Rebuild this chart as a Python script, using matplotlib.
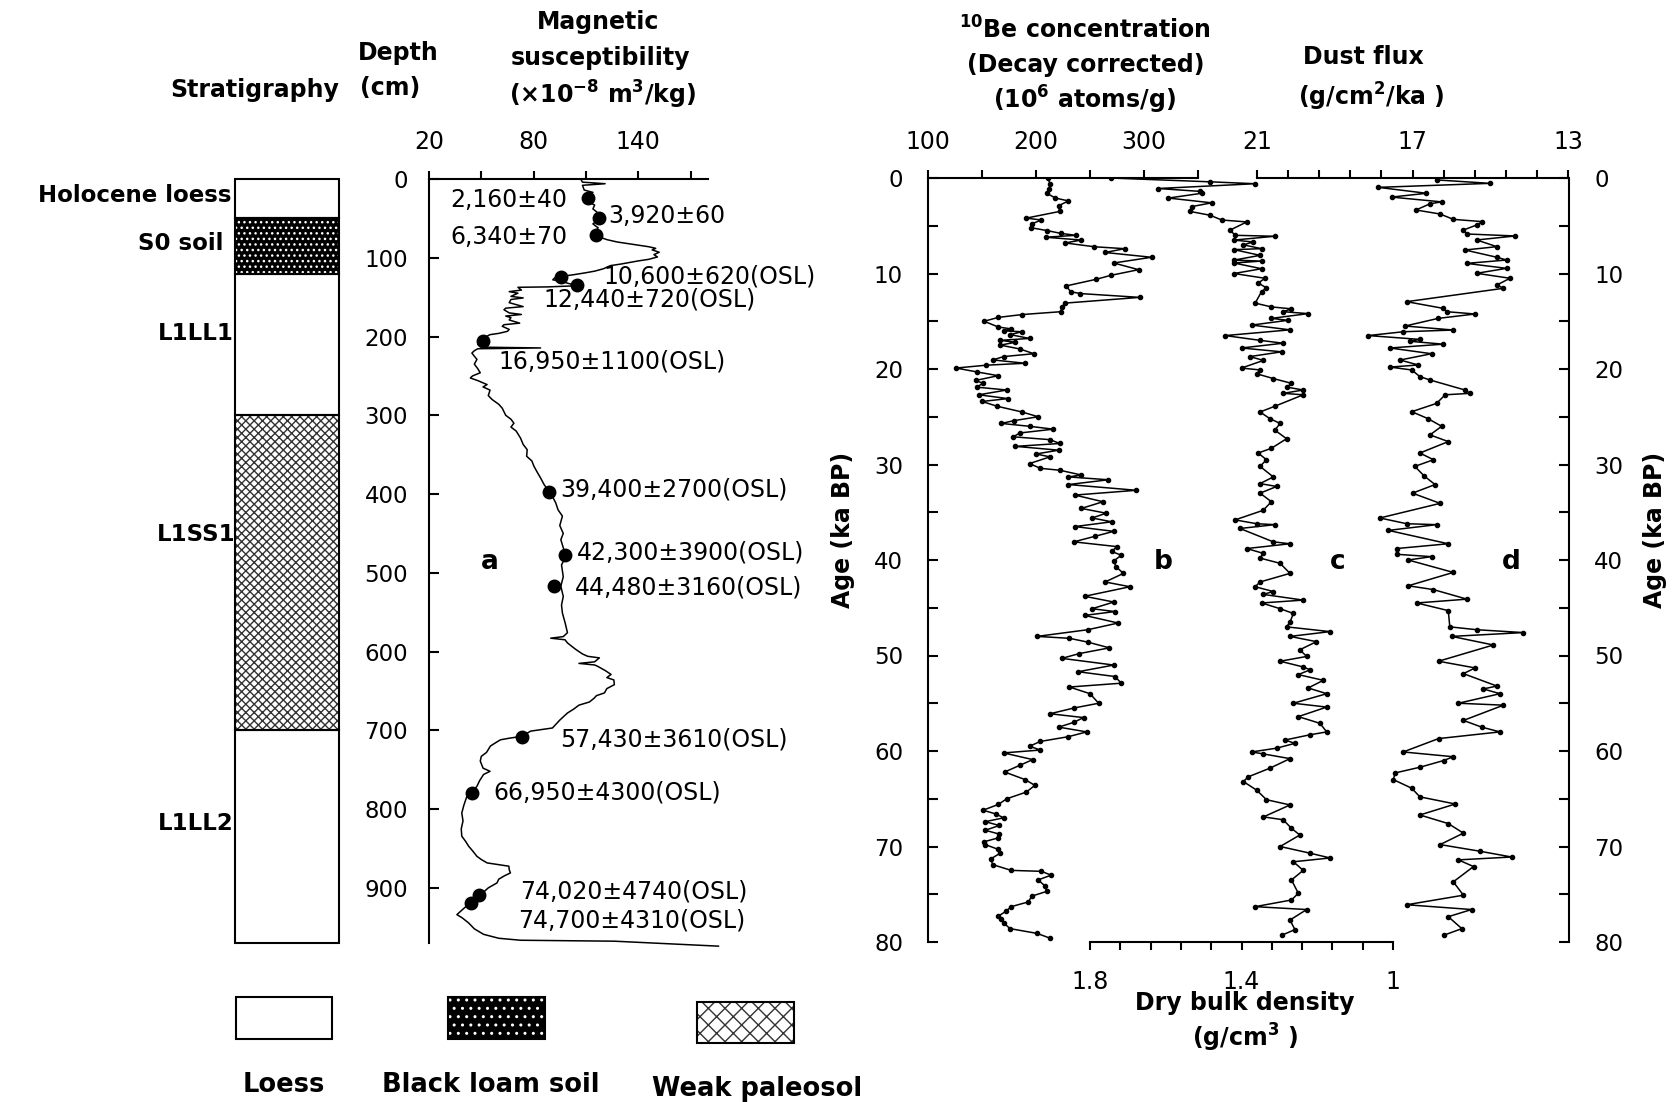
import numpy as np
import matplotlib
matplotlib.use('Agg')
import matplotlib.pyplot as plt
from matplotlib.patches import Rectangle

plt.rcParams['font.family'] = 'DejaVu Sans'
plt.rcParams['mathtext.default'] = 'regular'

# ---------------- data ----------------
# stratigraphy (depth in cm)
layer_names = ['Holocene loess', 'S0 soil', 'L1LL1', 'L1SS1', 'L1LL2']
layer_top = [0, 50, 120, 300, 700]
layer_bot = [50, 120, 300, 700, 970]
layer_kind = ['loess', 'soil', 'loess', 'paleosol', 'loess']

# magnetic susceptibility vs depth
mag_depth = [0, 4, 6, 8, 14, 17, 20, 26, 30, 33, 38, 45, 52, 57, 62, 68, 73, 77, 80, 83, 86,
             88, 90, 93, 96, 99, 102, 104, 106, 108, 110, 112, 114, 117, 119, 121.5, 123,
             125.7, 128, 130, 132, 135.5, 137, 137.5, 141, 143, 145, 149, 151, 153, 157, 162,
             164, 166, 170, 172, 174, 176, 179, 183, 185, 187, 191, 193.4, 196, 197.6, 201,
             203, 206, 210, 213.5, 214.5, 215.5, 218, 221, 225, 229, 235, 241, 246, 250,
             252.6, 256, 261, 264, 268, 275, 280, 286, 291, 300, 305, 310, 315, 320, 329, 337,
             343.6, 352, 358, 364.8, 372, 379.6, 388, 396.5, 404, 411.3, 420, 428, 440, 450,
             458, 468, 479, 490, 505, 517, 530, 541, 551, 563, 576, 581, 583, 585, 589, 597,
             603, 606, 608, 613, 615, 617, 618.7, 624, 629, 633, 636, 642, 647, 652.5, 656,
             659, 664, 668, 673, 678, 687, 697, 701, 704, 707.5, 710, 712, 716, 720, 728,
             733, 739, 748, 752, 756, 764, 771, 778, 784, 795, 805, 815, 825, 834.4, 841,
             847, 853, 860, 864, 868.3, 872.5, 877, 881, 885, 889, 893.7, 900, 904, 908.5,
             913, 919, 926, 934, 938, 944.5, 952, 959, 964, 966.5, 967.7, 974]
mag_value = [107, 108, 121, 108, 109, 114, 111, 113, 112, 115, 114, 118, 117, 114, 117, 115,
             117, 122, 128, 137, 146, 150, 148, 152, 149, 151, 146, 140, 135, 130, 124, 122,
             120, 115, 110, 103, 98, 92, 91, 96, 99, 105, 88, 71, 73, 66, 71, 67, 74, 67,
             66, 74, 64, 63, 66, 73, 64, 67, 66, 72, 63, 62, 66, 65, 60, 55, 52, 50, 49, 48,
             50, 84, 48, 46, 44.6, 46, 47.5, 46, 48, 49.4, 45, 43.7, 48, 53.3, 51, 55, 54,
             56.2, 60, 62, 64, 67, 68.7, 67, 70, 72.5, 74, 76.3, 76, 79, 80.2, 82, 84, 86,
             88.8, 91, 92.7, 94, 96.5, 95, 97, 95.6, 97, 98.5, 96, 97, 95.6, 97, 96, 96.5, 98,
             99.4, 97, 89.8, 98, 99.4, 104, 108, 111, 117.7, 115, 106, 115, 116.7, 121,
             124.4, 122, 126, 126.3, 122, 120.6, 116, 114.8, 112, 106, 103, 99.4, 95, 90.8,
             78.3, 76, 73.5, 66, 61, 58, 55.2, 53, 50, 49.4, 51, 55, 51.3, 49, 47.5, 45,
             41.7, 40, 38.8, 39.5, 38.5, 38.8, 41, 42.7, 45, 47.5, 50, 53.3, 65.8, 66, 66.7,
             63, 60, 59, 54, 52, 49.4, 47, 43.7, 40, 36, 39, 42.7, 46, 51.3, 60, 72.5,
             126.3, 186]

# dated samples on the susceptibility curve
date_labels = ['2,160±40', '3,920±60', '6,340±70', '10,600±620(OSL)', '12,440±720(OSL)',
               '16,950±1100(OSL)', '39,400±2700(OSL)', '42,300±3900(OSL)',
               '44,480±3160(OSL)', '57,430±3610(OSL)', '66,950±4300(OSL)',
               '74,020±4740(OSL)', '74,700±4310(OSL)']
date_depth = [24, 50, 71, 124, 134.5, 206, 397, 478, 517, 708, 780, 909, 919]
date_value = [111, 117.7, 116, 95.6, 105, 51, 89, 98, 91.7, 73.5, 44.6, 48.5, 44]

# 10Be concentration (10^6 atoms/g) vs age (ka BP)
be_age = [0.0, 0.6, 1.2, 1.6, 2.1, 2.4, 2.9, 3.5, 4.2, 4.4, 4.8, 5.2, 5.5, 5.8, 6.0, 6.2, 6.5,
          6.8, 7.2, 7.4, 7.8, 8.3, 8.9, 9.6, 10.2, 10.6, 11.3, 11.9, 12.1, 12.5, 13.1, 13.5,
          14.0, 14.3, 14.6, 15.0, 15.6, 15.8, 16.0, 16.1, 16.4, 16.8, 17.0, 17.2, 17.5, 17.9,
          18.4, 18.7, 19.05, 19.4, 19.6, 19.9, 20.3, 20.7, 21.2, 21.5, 21.9, 22.2, 22.7,
          23.1, 23.4, 23.9, 24.5, 25.0, 25.4, 25.7, 26.0, 26.3, 26.7, 27.1, 27.4, 27.8,
          28.1, 28.5, 28.9, 29.2, 29.9, 30.4, 30.6, 31.1, 31.3, 31.6, 32.1, 32.7, 33.2,
          33.9, 34.6, 35.1, 35.6, 36.0, 36.5, 37.0, 37.5, 38.1, 38.6, 39.1, 39.5, 40.1,
          40.7, 41.4, 42.3, 42.8, 43.8, 44.4, 45.1, 45.4, 45.8, 46.6, 47.3, 48.0, 48.2,
          48.6, 49.2, 49.8, 50.3, 51.0, 51.7, 52.2, 52.9, 53.3, 54.0, 55.0, 55.5, 56.1,
          56.5, 57.0, 57.5, 58.0, 58.5, 59.0, 59.5, 59.9, 60.2, 60.9, 61.5, 62.2, 63.0,
          63.6, 64.3, 65.0, 65.6, 66.2, 66.6, 67.0, 67.4, 67.8, 68.3, 68.7, 69.1, 69.5,
          69.8, 70.3, 70.7, 71.3, 71.9, 72.5, 72.6, 73.0, 73.5, 74.1, 74.7, 75.2, 75.8,
          76.3, 76.8, 77.3, 77.6, 78.0, 78.6, 79.1, 79.6]
be_value = [211, 213, 212, 210, 218, 230, 221, 222, 191, 205, 196, 195, 210, 223, 237, 209,
            242, 227, 254, 282, 264, 307, 272, 295, 269, 256, 228, 232, 241, 296, 227, 224,
            223, 187, 165, 152, 165, 177, 170, 187, 176, 194, 167, 181, 167, 185, 198, 170,
            160, 190, 154, 126, 145, 165, 144, 151, 145, 173, 147, 174, 150, 164, 187, 202,
            180, 168, 194, 216, 185, 179, 213, 222, 181, 221, 200, 213, 194, 204, 222, 242,
            230, 267, 230, 293, 236, 262, 242, 265, 252, 270, 236, 272, 255, 235, 275, 270,
            279, 272, 274, 281, 264, 287, 245, 272, 252, 273, 245, 276, 248, 201, 231, 248,
            268, 240, 224, 272, 239, 273, 279, 231, 250, 258, 235, 213, 244, 235, 221, 247,
            230, 204, 194, 204, 170, 197, 185, 171, 190, 199, 191, 173, 165, 151, 163, 170,
            153, 166, 153, 166, 165, 152, 153, 165, 167, 158, 160, 177, 205, 214, 202, 208,
            210, 196, 193, 177, 172, 165, 168, 170, 176, 201, 213]

# dry bulk density (g/cm3) vs age
c_age = [0.0, 0.4, 0.6, 1.1, 1.4, 1.6, 2.1, 2.6, 3.0, 3.5, 3.9, 4.4, 4.6, 5.45, 6.0, 6.1, 6.5,
         6.7, 7.0, 7.4, 7.5, 8.1, 8.6, 8.7, 8.9, 9.5, 10.0, 10.5, 11.0, 11.5, 11.9, 13.1,
         13.5, 13.7, 14.0, 14.2, 14.7, 14.9, 15.4, 15.9, 16.5, 17.0, 17.3, 17.8, 18.2, 18.7,
         19.1, 19.9, 20.1, 20.5, 21.0, 21.5, 21.9, 22.2, 22.55, 22.7, 23.9, 24.5, 25.2,
         25.7, 26.4, 27.3, 28.3, 28.8, 29.5, 30.2, 31.3, 32.0, 32.3, 33.0, 33.9, 34.8, 35.8,
         36.2, 36.3, 36.7, 38.1, 38.3, 38.8, 39.3, 39.8, 40.35, 41.4, 42.3, 42.8, 43.3,
         43.6, 44.2, 44.5, 45.1, 45.6, 46.5, 47.0, 47.5, 48.0, 48.55, 49.4, 50.1, 50.6,
         51.2, 51.5, 52.0, 52.6, 53.4, 54.0, 55.0, 55.4, 56.4, 57.1, 58.0, 58.3, 58.85,
         59.2, 59.7, 60.1, 60.3, 60.8, 61.8, 62.7, 63.2, 64.1, 65.1, 65.65, 66.9, 67.2,
         68.1, 68.8, 70.0, 70.7, 71.2, 71.6, 72.5, 73.5, 74.9, 75.6, 76.3, 76.6, 77.7,
         78.7, 79.3]
c_value = [1.745, 1.483, 1.364, 1.62, 1.51, 1.505, 1.593, 1.479, 1.532, 1.536, 1.483, 1.452,
           1.386, 1.43, 1.417, 1.312, 1.42, 1.369, 1.395, 1.347, 1.42, 1.351, 1.42, 1.347,
           1.42, 1.347, 1.42, 1.338, 1.356, 1.334, 1.347, 1.364, 1.321, 1.268, 1.29, 1.224,
           1.321, 1.277, 1.373, 1.272, 1.443, 1.351, 1.29, 1.40, 1.294, 1.378, 1.342, 1.40,
           1.351, 1.36, 1.316, 1.268, 1.28, 1.237, 1.29, 1.237, 1.312, 1.351, 1.325, 1.298,
           1.312, 1.281, 1.321, 1.356, 1.334, 1.351, 1.316, 1.351, 1.307, 1.351, 1.321,
           1.343, 1.417, 1.36, 1.312, 1.404, 1.316, 1.272, 1.386, 1.343, 1.351, 1.298, 1.272,
           1.351, 1.364, 1.316, 1.343, 1.237, 1.347, 1.298, 1.263, 1.272, 1.281, 1.166,
           1.272, 1.202, 1.246, 1.228, 1.298, 1.237, 1.219, 1.25, 1.184, 1.224, 1.175,
           1.263, 1.175, 1.25, 1.193, 1.175, 1.219, 1.285, 1.259, 1.307, 1.373, 1.343, 1.272,
           1.325, 1.382, 1.395, 1.36, 1.334, 1.272, 1.342, 1.29, 1.268, 1.246, 1.298, 1.219,
           1.166, 1.263, 1.237, 1.268, 1.25, 1.268, 1.364, 1.228, 1.272, 1.259, 1.294]

# dust flux (g/cm2/ka) vs age
d_age = [0.2, 0.56, 0.98, 1.6, 2.0, 2.5, 2.7, 3.35, 3.77, 4.33, 4.57, 4.92, 5.45, 5.86, 6.07,
         6.49, 7.19, 7.54, 8.3, 8.59, 8.94, 9.46, 9.98, 10.5, 11.2, 11.55, 12.95, 13.65,
         14.0, 14.24, 14.7, 15.5, 15.92, 16.1, 16.5, 16.9, 17.1, 17.4, 17.8, 18.4, 19.06,
         19.58, 19.8, 20.1, 20.8, 21.15, 22.2, 22.55, 22.7, 23.6, 24.47, 25.2, 26.0, 26.9,
         27.6, 28.8, 29.5, 30.2, 31.2, 32.1, 33.0, 34.07, 35.6, 36.2, 36.3, 36.9, 38.3,
         38.8, 39.4, 39.65, 40.0, 41.3, 42.7, 43.1, 44.1, 44.5, 45.3, 47.0, 47.3, 47.6,
         48.0, 48.9, 50.6, 51.3, 51.9, 53.2, 53.5, 54.0, 55.0, 55.2, 56.8, 57.5, 58.0, 58.7,
         60.1, 60.6, 61.0, 61.7, 62.3, 63.0, 63.9, 64.8, 65.55, 66.7, 67.6, 68.6, 69.8,
         70.5, 71.1, 71.4, 72.1, 73.7, 75.1, 76.1, 76.6, 77.35, 78.6, 79.3]
d_value = [16.38, 15.01, 17.88, 16.64, 17.54, 16.25, 16.55, 16.91, 16.29, 15.95, 15.2, 15.35,
           15.69, 15.61, 14.36, 15.35, 14.83, 15.65, 14.83, 14.58, 15.61, 14.58, 15.35,
           14.49, 14.83, 14.66, 17.15, 16.21, 16.12, 15.39, 16.34, 17.19, 15.95, 17.24,
           18.14, 16.81, 17.06, 16.21, 17.58, 16.51, 17.32, 16.85, 17.58, 17.02, 16.81,
           16.55, 15.65, 15.52, 16.16, 16.38, 17.02, 16.6, 16.25, 16.55, 16.08, 16.81, 16.46,
           16.94, 16.7, 16.42, 17.0, 16.29, 17.84, 17.15, 16.38, 17.62, 16.08, 17.41, 17.41,
           16.51, 17.11, 15.95, 17.11, 16.46, 15.6, 16.89, 16.08, 16.04, 15.35, 14.15, 15.99,
           14.92, 16.33, 15.39, 15.69, 14.83, 15.18, 14.75, 15.82, 14.66, 15.69, 15.22,
           14.75, 16.33, 17.24, 15.95, 16.2, 16.81, 17.45, 17.49, 17.02, 16.81, 15.9, 16.81,
           16.08, 15.69, 16.29, 15.26, 14.45, 15.82, 15.43, 15.95, 15.69, 17.15, 15.48,
           16.08, 15.73, 16.2]

# tick labels
mag_ticks = [20, 50, 80, 110, 140, 170]
mag_ticklabels = ['20', '', '80', '', '140', '']
be_ticks = [100, 150, 200, 250, 300, 350]
be_ticklabels = ['100', '', '200', '', '300', '']
dust_ticks = [13, 13.8, 14.6, 15.4, 16.2, 17, 17.8, 18.6, 19.4, 20.2, 21]
dust_ticklabels = ['13', '', '', '', '', '17', '', '', '', '', '21']
dens_ticks = [1.0, 1.08, 1.16, 1.24, 1.32, 1.4, 1.48, 1.56, 1.64, 1.72, 1.8]
dens_ticklabels = ['1', '', '', '', '', '1.4', '', '', '', '', '1.8']

# ---------------- layout helpers (pixels of a 1678x1102 canvas) ----------------
W, H = 1678, 1102
fig = plt.figure(figsize=(W / 100, H / 100), dpi=100)


def box(x0, y0, x1, y1):
    return [x0 / W, 1 - y1 / H, (x1 - x0) / W, (y1 - y0) / H]


def ftext(x, y, s, **kw):
    kw.setdefault('ha', 'center')
    kw.setdefault('va', 'center')
    fig.text(x / W, 1 - y / H, s, **kw)


def span(v0, p0, v1, p1, a0, a1):
    # limits so that value v0 sits at pixel p0 and v1 at p1 on an axes spanning a0..a1
    k = (v1 - v0) / (p1 - p0)
    return v0 + (a0 - p0) * k, v0 + (a1 - p0) * k


LW = 1.5
TS = 17  # title size

# ---------------- stratigraphy column ----------------
ax_s = fig.add_axes(box(235, 179, 339, 943))
ax_s.set_ylim(970, 0)
ax_s.set_xlim(0, 1)
ax_s.axis('off')
thick = np.array(layer_bot) - np.array(layer_top)
bars = ax_s.barh(layer_top, 1, height=thick, left=0, align='edge',
                 color='white', edgecolor='black', linewidth=0)
for b, kind in zip(bars, layer_kind):
    if kind == 'soil':
        b.set_facecolor('black')
        b.set_edgecolor('white')
        b.set_hatch('...')
    elif kind == 'paleosol':
        b.set_edgecolor('#333333')
        b.set_hatch('xxxx')
ax_s.barh(layer_top, 1, height=thick, left=0, align='edge', fill=False,
          edgecolor='black', linewidth=LW, clip_on=False)

strat_pos = [(231, 196, 'right'), (181, 244, 'center'), (196, 334, 'center'),
             (196, 535, 'center'), (196, 824, 'center')]
for name, (x, y, ha) in zip(layer_names, strat_pos):
    ftext(x, y, name, ha=ha, fontsize=16.5, fontweight='bold')

# ---------------- magnetic susceptibility ----------------
ax_m = fig.add_axes(box(429, 179, 708, 943))
ax_m.set_ylim(970, 0)
ax_m.set_xlim(20, 180)
ax_m.plot(mag_value, mag_depth, color='black', lw=1.1, clip_on=False)
ax_m.plot(date_value, date_depth, 'o', color='black', ms=9, clip_on=False)
for s in ['right', 'bottom']:
    ax_m.spines[s].set_visible(False)
for s in ['left', 'top']:
    ax_m.spines[s].set_linewidth(LW)
ax_m.xaxis.tick_top()
ax_m.set_xticks(mag_ticks)
ax_m.set_xticklabels(mag_ticklabels)
ax_m.set_yticks(range(0, 901, 100))
ax_m.tick_params(axis='x', direction='out', length=6, width=LW, labelsize=17, pad=12)
ax_m.tick_params(axis='y', direction='in', length=7, width=LW, labelsize=16.5, pad=15)

lab_x = [32, 123, 32, 119.8, 85.4, 59.6, 95, 104.9, 103.7, 95, 56.7, 72.2, 71]
lab_y = [26.7, 47, 73.6, 124, 153.5, 232, 394, 474, 518.7, 712, 779, 905, 942]
for s, x, y in zip(date_labels, lab_x, lab_y):
    ax_m.text(x, y, s, fontsize=17, ha='left', va='center', clip_on=False)
ftext(490, 562, 'a', fontsize=19, fontweight='bold')

# headers, left part
ftext(255, 90, 'Stratigraphy', fontsize=TS, fontweight='bold')
ftext(398, 53, 'Depth', fontsize=TS, fontweight='bold')
ftext(390, 88, '(cm)', fontsize=TS, fontweight='bold')
ftext(598, 22, 'Magnetic', fontsize=TS, fontweight='bold')
ftext(600, 58, 'susceptibility', fontsize=TS, fontweight='bold')
ftext(603, 95, r'(×10$^{\mathbf{-8}}$ m$^{\mathbf{3}}$/kg)', fontsize=TS, fontweight='bold')

# ---------------- age panel ----------------
ax_a = fig.add_axes(box(928, 178, 1569, 942))
ax_a.set_ylim(80, 0)
ax_a.set_xticks([])
for s in ['top', 'bottom']:
    ax_a.spines[s].set_visible(False)
for s in ['left', 'right']:
    ax_a.spines[s].set_linewidth(LW)
ax_a.set_yticks(range(0, 81, 10))
ax_a.set_yticks(range(5, 80, 10), minor=True)
ax_a.tick_params(axis='y', which='both', direction='in', length=7, width=LW,
                 left=True, right=True, labelleft=True, labelright=True,
                 labelsize=16.5, pad=18)

# 10Be
ax_b = ax_a.twiny()
ax_b.set_xlim(*span(100, 928, 350, 1198, 928, 1569))
ax_b.plot(be_value, be_age, '-o', color='black', lw=1.1, ms=3)
for s in ['left', 'right', 'bottom']:
    ax_b.spines[s].set_visible(False)
ax_b.spines['top'].set_bounds(100, 350)
ax_b.spines['top'].set_linewidth(LW)
ax_b.set_xticks(be_ticks)
ax_b.set_xticklabels(be_ticklabels)
ax_b.tick_params(axis='x', direction='out', length=6, width=LW, labelsize=17, pad=11)

# dust flux
ax_d = ax_a.twiny()
ax_d.set_xlim(*span(21, 1257, 13, 1568, 928, 1569))
ax_d.plot(d_value, d_age, '-o', color='black', lw=1.1, ms=3)
for s in ['left', 'right', 'bottom']:
    ax_d.spines[s].set_visible(False)
ax_d.spines['top'].set_bounds(13, 21)
ax_d.spines['top'].set_linewidth(LW)
ax_d.set_xticks(dust_ticks)
ax_d.set_xticklabels(dust_ticklabels)
ax_d.tick_params(axis='x', direction='out', length=6, width=LW, labelsize=17, pad=11)

# dry bulk density
ax_c = ax_a.twiny()
ax_c.set_xlim(*span(1.8, 1090, 1.0, 1393, 928, 1569))
ax_c.plot(c_value, c_age, '-o', color='black', lw=1.1, ms=3)
ax_c.xaxis.tick_bottom()
for s in ['left', 'right', 'top']:
    ax_c.spines[s].set_visible(False)
ax_c.spines['bottom'].set_visible(True)
ax_c.spines['bottom'].set_bounds(1.0, 1.8)
ax_c.spines['bottom'].set_linewidth(LW)
ax_c.set_xticks(dens_ticks)
ax_c.set_xticklabels(dens_ticklabels)
ax_c.tick_params(axis='x', direction='out', length=6, width=LW, labelsize=17, pad=14)

ftext(1163, 562, 'b', fontsize=19, fontweight='bold')
ftext(1338, 562, 'c', fontsize=19, fontweight='bold')
ftext(1511, 562, 'd', fontsize=19, fontweight='bold')

ftext(843, 530, 'Age (ka BP)', fontsize=TS, fontweight='bold', rotation=90)
ftext(1655, 530, 'Age (ka BP)', fontsize=TS, fontweight='bold', rotation=90)

ftext(1085, 30, r'$^{\mathbf{10}}$Be concentration', fontsize=TS, fontweight='bold')
ftext(1086, 65, '(Decay corrected)', fontsize=TS, fontweight='bold')
ftext(1084, 100, r'(10$^{\mathbf{6}}$ atoms/g)', fontsize=TS, fontweight='bold')
ftext(1363, 57, 'Dust flux', fontsize=TS, fontweight='bold')
ftext(1371, 97, r'(g/cm$^{\mathbf{2}}$/ka )', fontsize=TS, fontweight='bold')
ftext(1245, 1003, 'Dry bulk density', fontsize=TS, fontweight='bold')
ftext(1245, 1038, r'(g/cm$^{\mathbf{3}}$ )', fontsize=TS, fontweight='bold')

# ---------------- legend ----------------
legend_items = [('Loess', 'loess'), ('Black loam soil', 'soil'), ('Weak paleosol', 'paleosol')]
legend_boxes = [(236, 997, 332, 1039), (448, 997, 545, 1039), (697, 1002, 794, 1043)]
legend_text = [(284, 1085), (491, 1085), (757, 1089)]
for (name, kind), (x0, y0, x1, y1), (tx, ty) in zip(legend_items, legend_boxes, legend_text):
    xy = (x0 / W, 1 - y1 / H)
    w, h = (x1 - x0) / W, (y1 - y0) / H
    if kind == 'soil':
        fig.add_artist(Rectangle(xy, w, h, transform=fig.transFigure, facecolor='black',
                                 edgecolor='white', hatch='..', linewidth=0))
    elif kind == 'paleosol':
        fig.add_artist(Rectangle(xy, w, h, transform=fig.transFigure, facecolor='white',
                                 edgecolor='#333333', hatch='xx', linewidth=0))
    fig.add_artist(Rectangle(xy, w, h, transform=fig.transFigure, fill=False,
                             edgecolor='black', linewidth=LW))
    ftext(tx, ty, name, fontsize=18.5, fontweight='bold')

fig.savefig('out.png', dpi=100, facecolor='white')
